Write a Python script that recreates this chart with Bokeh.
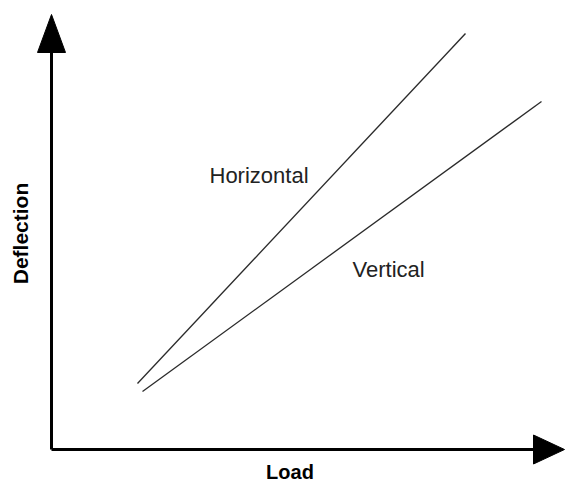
import math
from bokeh.plotting import figure
from bokeh.models import Range1d
from bokeh.core.properties import value
from bokeh.embed import file_html
from bokeh.resources import INLINE

# Data (arbitrary load / deflection units)
load_horizontal = [1.72, 8.28]
deflection_horizontal = [1.65, 10.4]
load_vertical = [1.82, 9.8]
deflection_vertical = [1.45, 8.7]
series_labels = ["Horizontal", "Vertical"]
axis_labels = ["Load", "Deflection"]

load_axis_end = 10.26
deflection_axis_end = 10.875

p = figure(width=566, height=484, output_backend="svg", toolbar_location=None,
           x_range=Range1d(-1.02, 10.3), y_range=Range1d(-0.875, 11.225),
           min_border=0)
p.axis.visible = False
p.grid.visible = False
p.outline_line_color = None
p.background_fill_color = "white"
p.border_fill_color = "white"

# axes with arrowheads
xs_per_px = 1 / 50
ys_per_px = 1 / 40
p.line([0, 0], [0, deflection_axis_end - 30 * ys_per_px], line_color="black", line_width=3)
p.line([0, load_axis_end - 20 * xs_per_px], [0, 0], line_color="black", line_width=3)
p.patch([-14 * xs_per_px, 0, 14 * xs_per_px],
        [deflection_axis_end - 38 * ys_per_px, deflection_axis_end, deflection_axis_end - 38 * ys_per_px],
        fill_color="black", line_color="black", line_width=1)
p.patch([load_axis_end - 31 * xs_per_px, load_axis_end, load_axis_end - 31 * xs_per_px],
        [14.5 * ys_per_px, 0, -14.5 * ys_per_px],
        fill_color="black", line_color="black", line_width=1)

# series lines
p.line(load_horizontal, deflection_horizontal, line_color="#2a2a2a", line_width=1.3)
p.line(load_vertical, deflection_vertical, line_color="#2a2a2a", line_width=1.3)

font = value("Liberation Sans")
p.text(x=[3.16], y=[6.85], text=[series_labels[0]], text_font=font,
       text_font_size="22px", text_align="left", text_baseline="middle", text_color="#222222")
p.text(x=[6.02], y=[4.49], text=[series_labels[1]], text_font=font,
       text_font_size="22px", text_align="left", text_baseline="middle", text_color="#222222")

p.text(x=[4.77], y=[-0.84], text=[axis_labels[0]], text_font=font, text_font_style="bold",
       text_font_size="20px", text_align="center", text_baseline="bottom", text_color="black")
p.text(x=[-0.62], y=[5.4], text=[axis_labels[1]], text_font=font, text_font_style="bold",
       text_font_size="21px", text_align="center", text_baseline="middle", text_color="black",
       angle=math.pi / 2)

open("out.html", "w").write(file_html(p, INLINE))
